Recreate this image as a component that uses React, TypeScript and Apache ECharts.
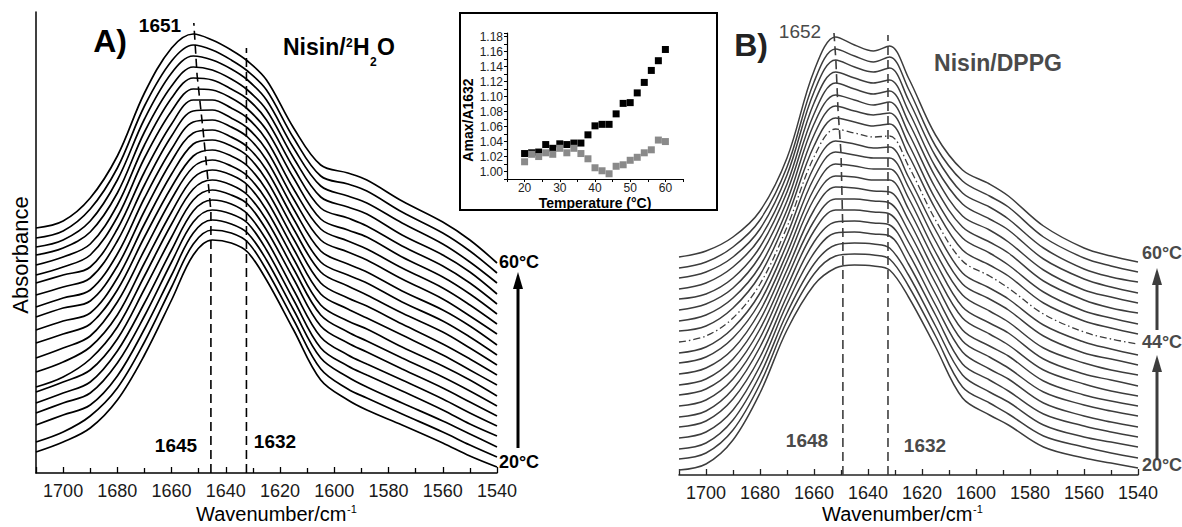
import React, { useEffect, useRef } from 'react';
import * as echarts from 'echarts';

const wavenumbers = [1710, 1700, 1690, 1680, 1670, 1660, 1652, 1645, 1638, 1632, 1625, 1615, 1605, 1595, 1588, 1575, 1560, 1550, 1540];

// Temperatures of the stacked spectra (°C), bottom to top
const temperatures = [20, 22, 24, 26, 28, 30, 32, 34, 36, 38, 40, 42, 44, 46, 48, 50, 52, 54, 56, 58, 60];

// Panel A: Nisin in 2H2O, stacked absorbance (arbitrary units x1000, offset per temperature)
const spectraA: number[][] = [
  [21, 31, 45, 73, 118, 173, 218, 233, 230, 221, 193, 143, 93, 73, 63, 48, 30, 17, 6],
  [31, 41, 57, 85, 131, 186, 229, 243, 240, 231, 203, 153, 104, 84, 75, 59, 41, 28, 16],
  [48, 58, 68, 97, 144, 198, 240, 253, 249, 240, 213, 163, 115, 96, 86, 70, 52, 39, 26],
  [60, 70, 80, 110, 157, 211, 251, 263, 259, 250, 223, 173, 125, 107, 98, 82, 63, 49, 37],
  [70, 80, 91, 122, 170, 223, 262, 273, 269, 259, 233, 183, 136, 118, 109, 93, 74, 60, 47],
  [81, 91, 103, 134, 184, 236, 273, 283, 278, 269, 243, 194, 147, 130, 121, 104, 85, 71, 57],
  [86, 96, 114, 146, 197, 249, 284, 293, 288, 278, 253, 204, 158, 141, 132, 115, 96, 82, 67],
  [101, 111, 126, 158, 210, 261, 295, 303, 298, 288, 263, 214, 168, 152, 144, 126, 107, 93, 77],
  [115, 125, 137, 171, 223, 274, 306, 313, 307, 297, 273, 224, 179, 164, 155, 138, 118, 103, 88],
  [130, 139, 149, 183, 236, 286, 317, 323, 317, 307, 283, 234, 190, 175, 167, 149, 129, 114, 98],
  [143, 152, 160, 195, 249, 299, 329, 333, 327, 317, 293, 244, 201, 187, 178, 160, 141, 125, 108],
  [156, 165, 172, 207, 262, 312, 340, 343, 336, 326, 303, 254, 211, 198, 190, 171, 152, 136, 118],
  [166, 175, 183, 219, 275, 324, 351, 353, 346, 336, 313, 264, 222, 209, 201, 182, 163, 147, 128],
  [178, 186, 195, 232, 288, 337, 362, 363, 355, 345, 323, 274, 233, 221, 213, 194, 174, 157, 139],
  [190, 198, 206, 244, 301, 349, 373, 373, 365, 355, 333, 284, 244, 232, 224, 205, 185, 168, 149],
  [198, 206, 218, 256, 315, 362, 384, 383, 375, 364, 343, 295, 254, 243, 236, 216, 196, 179, 159],
  [208, 216, 229, 268, 328, 375, 395, 393, 384, 374, 353, 305, 265, 255, 247, 227, 207, 190, 169],
  [218, 225, 241, 280, 341, 387, 406, 403, 394, 383, 363, 315, 276, 266, 259, 238, 218, 201, 179],
  [226, 233, 252, 293, 354, 400, 417, 413, 404, 393, 373, 325, 287, 277, 270, 250, 229, 211, 190],
  [235, 242, 264, 305, 367, 412, 428, 423, 413, 402, 383, 335, 297, 289, 282, 261, 240, 222, 200],
  [245, 252, 275, 317, 380, 425, 439, 433, 423, 412, 393, 345, 308, 300, 293, 272, 251, 233, 210],
];

// Panel B: Nisin/DPPG, stacked absorbance (arbitrary units x1000, offset per temperature)
const spectraB: number[][] = [
  [5, 11, 35, 82, 145, 190, 207, 210, 209, 205, 178, 128, 77, 60, 50, 28, 17, 12, 7],
  [16, 22, 45, 91, 154, 201, 219, 221, 220, 216, 189, 139, 88, 72, 61, 39, 28, 22, 17],
  [26, 32, 55, 100, 162, 211, 230, 232, 231, 227, 200, 149, 100, 83, 73, 50, 38, 33, 28],
  [37, 43, 65, 109, 171, 222, 242, 243, 241, 239, 211, 160, 111, 95, 84, 61, 49, 43, 38],
  [48, 54, 76, 118, 179, 233, 253, 254, 252, 250, 222, 170, 123, 106, 96, 72, 59, 53, 48],
  [58, 64, 86, 128, 188, 244, 265, 265, 263, 261, 233, 181, 134, 118, 107, 83, 70, 64, 59],
  [69, 75, 96, 137, 197, 254, 276, 276, 274, 272, 244, 192, 145, 129, 119, 94, 80, 74, 69],
  [80, 86, 106, 146, 205, 265, 288, 287, 284, 283, 255, 202, 157, 141, 130, 105, 91, 84, 79],
  [90, 96, 116, 155, 214, 276, 299, 298, 295, 295, 266, 213, 168, 152, 142, 116, 101, 95, 89],
  [101, 107, 126, 164, 222, 286, 311, 309, 306, 306, 277, 223, 180, 164, 153, 127, 112, 105, 100],
  [112, 118, 137, 173, 231, 297, 323, 320, 317, 317, 288, 234, 191, 176, 165, 139, 122, 116, 110],
  [122, 128, 147, 182, 240, 308, 334, 331, 327, 328, 298, 245, 202, 187, 176, 150, 133, 126, 120],
  [133, 139, 157, 191, 248, 318, 346, 342, 338, 339, 309, 255, 214, 199, 187, 161, 143, 136, 131],
  [144, 149, 167, 200, 257, 329, 357, 353, 349, 351, 320, 266, 225, 210, 199, 172, 154, 147, 141],
  [154, 160, 177, 209, 265, 340, 369, 364, 360, 362, 331, 276, 237, 222, 210, 183, 164, 157, 151],
  [165, 171, 187, 219, 274, 351, 380, 375, 370, 373, 342, 287, 248, 233, 222, 194, 175, 167, 162],
  [176, 181, 197, 228, 283, 361, 392, 386, 381, 384, 353, 298, 259, 245, 233, 205, 185, 178, 172],
  [186, 192, 208, 237, 291, 372, 403, 397, 392, 395, 364, 308, 271, 256, 245, 216, 196, 188, 182],
  [197, 203, 218, 246, 300, 383, 415, 408, 403, 407, 375, 319, 282, 268, 256, 227, 206, 198, 193],
  [207, 213, 228, 255, 308, 393, 426, 419, 413, 418, 386, 329, 294, 279, 268, 238, 217, 209, 203],
  [218, 224, 238, 264, 317, 404, 438, 430, 424, 429, 397, 340, 305, 291, 279, 249, 227, 219, 213],
];

// Dashed guide lines [wavenumber, absorbance]
const guideA1632 = [[1632.4, 0], [1632.4, 425]];
const guideA1645 = [[1645.5, 0], [1645.5, 262], [1646.2, 282], [1648.4, 343], [1650.6, 398], [1651.8, 450]];
const guideB1632 = [[1632.6, 0], [1632.6, 440]];
const guideB1648 = [[1649.3, 0], [1649.3, 242], [1650.0, 322], [1651.1, 365], [1651.9, 415], [1652.6, 442]];

// Inset: Amax/A1632 ratio vs temperature
const insetTemps = [20, 22, 24, 26, 28, 30, 32, 34, 36, 38, 40, 42, 44, 46, 48, 50, 52, 54, 56, 58, 60];
const ratioBlack = [1.024, 1.025, 1.026, 1.036, 1.031, 1.037, 1.036, 1.038, 1.038, 1.049, 1.061, 1.063, 1.063, 1.077, 1.091, 1.092, 1.105, 1.119, 1.135, 1.148, 1.163];
const ratioGray = [1.013, 1.023, 1.020, 1.025, 1.023, 1.031, 1.025, 1.031, 1.024, 1.017, 1.005, 1.001, 0.997, 1.007, 1.009, 1.015, 1.019, 1.025, 1.029, 1.042, 1.040];

const FONT = '"Liberation Sans", Arial, Helvetica, sans-serif';
const GRAY = '#3d3d3d';
const TEXT_GRAY = '#4a4a4a';

function spectrumAxis(gridIndex: number, color: string) {
  return {
    gridIndex,
    type: 'value',
    min: 1540,
    max: 1710,
    inverse: true,
    interval: 20,
    axisLine: { show: true, onZero: false, lineStyle: { color, width: 1.5 } },
    axisTick: { show: true, inside: true, length: 6, lineStyle: { color, width: 1.3 } },
    minorTick: { show: true, splitNumber: 2, length: 5, lineStyle: { color, width: 1.3 } },
    axisLabel: {
      formatter: (v: number) => (v % 20 === 0 ? String(v) : ''),
      fontSize: 18,
      fontFamily: FONT,
      color: '#1a1a1a',
      margin: 9,
    },
    splitLine: { show: false },
    minorSplitLine: { show: false },
  };
}

function txt(x: number, y: number, text: string, fontSize: number, opts: any = {}) {
  return {
    type: 'text',
    x,
    y,
    rotation: opts.rotation || 0,
    silent: true,
    style: {
      text,
      fontSize,
      fontFamily: FONT,
      fontWeight: opts.bold ? 'bold' : 'normal',
      fill: opts.color || '#000',
      align: opts.align || 'center',
      verticalAlign: 'middle',
    },
  };
}

function arrow(x: number, yBottom: number, yTip: number, color: string) {
  return [
    { type: 'line', silent: true, shape: { x1: x, y1: yBottom, x2: x, y2: yTip + 14 }, style: { stroke: color, lineWidth: 3 } },
    { type: 'polygon', silent: true, shape: { points: [[x, yTip], [x - 5, yTip + 17], [x + 5, yTip + 17]] }, style: { fill: color } },
  ];
}

export default function App() {
  const ref = useRef<HTMLDivElement>(null);

  useEffect(() => {
    if (!ref.current) return;
    const chart = echarts.init(ref.current, undefined, { renderer: 'svg' });

    const series: any[] = [];
    spectraA.forEach((row, i) => {
      series.push({
        type: 'line',
        name: 'A ' + temperatures[i] + '°C',
        xAxisIndex: 0,
        yAxisIndex: 0,
        data: wavenumbers.map((w, j) => [w, row[j]]),
        showSymbol: false,
        smooth: 0.35,
        silent: true,
        lineStyle: { color: '#000', width: 1.7 },
      });
    });
    spectraB.forEach((row, i) => {
      const dd = temperatures[i] === 44;
      series.push({
        type: 'line',
        name: 'B ' + temperatures[i] + '°C',
        xAxisIndex: 1,
        yAxisIndex: 1,
        data: wavenumbers.map((w, j) => [w, row[j]]),
        showSymbol: false,
        smooth: 0.35,
        silent: true,
        lineStyle: { color: GRAY, width: dd ? 1.3 : 1.5, type: dd ? [7, 3, 1.5, 3] : 'solid' },
      });
    });
    const guide = (data: number[][], axis: number, color: string) => ({
      type: 'line',
      xAxisIndex: axis,
      yAxisIndex: axis,
      data,
      showSymbol: false,
      silent: true,
      lineStyle: { color, width: 1.6, type: [9, 5] },
      z: 3,
    });
    series.push(guide(guideA1632, 0, '#000'));
    series.push(guide(guideA1645, 0, '#000'));
    series.push(guide(guideB1632, 1, GRAY));
    series.push(guide(guideB1648, 1, GRAY));
    series.push({
      type: 'scatter',
      xAxisIndex: 2,
      yAxisIndex: 2,
      symbol: 'rect',
      symbolSize: 7,
      data: insetTemps.map((t, i) => [t, ratioBlack[i]]),
      itemStyle: { color: '#000', opacity: 1 },
      silent: true,
    });
    series.push({
      type: 'scatter',
      xAxisIndex: 2,
      yAxisIndex: 2,
      symbol: 'rect',
      symbolSize: 7,
      data: insetTemps.map((t, i) => [t, ratioGray[i]]),
      itemStyle: { color: '#8a8a8a', opacity: 1 },
      silent: true,
    });

    const graphic: any[] = [
      // inset frame
      { type: 'rect', silent: true, shape: { x: 460, y: 13, width: 257, height: 197 }, style: { fill: 'none', stroke: '#000', lineWidth: 2 } },
      // panel A texts
      txt(110, 41, 'A)', 32, { bold: true }),
      txt(160, 25, '1651', 19, { bold: true }),
      txt(283, 47, 'Nisin/', 23, { bold: true, align: 'left' }),
      txt(346, 43, '2', 12, { bold: true, align: 'left' }),
      txt(353, 47, 'H', 23, { bold: true, align: 'left' }),
      txt(370, 62, '2', 12, { bold: true, align: 'left' }),
      txt(377, 47, 'O', 23, { bold: true, align: 'left' }),
      txt(176, 445, '1645', 19, { bold: true }),
      txt(275, 441, '1632', 19, { bold: true }),
      txt(519, 262, '60°C', 18, { bold: true }),
      txt(519, 462, '20°C', 18, { bold: true }),
      txt(20, 255, 'Absorbance', 22, { rotation: Math.PI / 2 }),
      txt(196, 514, 'Wavenumber/cm', 20, { align: 'left' }),
      txt(347, 509, '-1', 11, { align: 'left' }),
      ...arrow(518, 448, 272, '#000'),
      // panel B texts
      txt(751, 45, 'B)', 32, { bold: true, color: '#222' }),
      txt(800, 31, '1652', 19, { color: TEXT_GRAY }),
      txt(998, 63, 'Nisin/DPPG', 23, { bold: true, color: TEXT_GRAY }),
      txt(807, 440, '1648', 19, { bold: true, color: TEXT_GRAY }),
      txt(925, 445, '1632', 19, { bold: true, color: TEXT_GRAY }),
      txt(1162, 253, '60°C', 18, { bold: true, color: TEXT_GRAY }),
      txt(1162, 342, '44°C', 18, { bold: true, color: TEXT_GRAY }),
      txt(1162, 465, '20°C', 18, { bold: true, color: TEXT_GRAY }),
      txt(822, 514, 'Wavenumber/cm', 20, { align: 'left' }),
      txt(973, 509, '-1', 11, { align: 'left' }),
      ...arrow(1157, 330, 268, GRAY),
      ...arrow(1157, 460, 355, GRAY),
      // inset texts
      txt(595, 203, 'Temperature (°C)', 14, { bold: true }),
      txt(468, 120, 'Amax/A1632', 14, { bold: true, rotation: Math.PI / 2 }),
    ];

    chart.setOption({
      animation: false,
      backgroundColor: '#fff',
      grid: [
        { left: 36, top: 12, width: 461, height: 461 },
        { left: 679, top: 12, width: 459, height: 463 },
        { left: 507, top: 33, width: 176, height: 146 },
      ],
      xAxis: [
        spectrumAxis(0, '#000'),
        spectrumAxis(1, '#222'),
        {
          gridIndex: 2,
          type: 'value',
          min: 15,
          max: 65,
          interval: 5,
          axisLine: { show: true, onZero: false, lineStyle: { color: '#000', width: 1.2 } },
          axisTick: { show: true, length: 3, lineStyle: { color: '#000' } },
          axisLabel: { formatter: (v: number) => (v % 10 === 0 ? String(v) : ''), fontSize: 12, fontFamily: FONT, color: '#222', margin: 3 },
          splitLine: { show: false },
        },
      ],
      yAxis: [
        { gridIndex: 0, type: 'value', min: 0, max: 461, axisLine: { show: true, onZero: false, lineStyle: { color: '#000', width: 1.5 } }, axisTick: { show: false }, axisLabel: { show: false }, splitLine: { show: false } },
        { gridIndex: 1, type: 'value', min: 0, max: 463, axisLine: { show: false }, axisTick: { show: false }, axisLabel: { show: false }, splitLine: { show: false } },
        {
          gridIndex: 2,
          type: 'value',
          min: 0.99,
          max: 1.185,
          interval: 0.01,
          axisLine: { show: true, onZero: false, lineStyle: { color: '#000', width: 1.2 } },
          axisTick: { show: true, length: 3, lineStyle: { color: '#000' } },
          axisLabel: {
            formatter: (v: number) => {
              const k = Math.round(v * 100);
              if (Math.abs(v * 100 - k) > 1e-6) return '';
              return k % 2 === 0 && k >= 100 && k <= 118 ? (k / 100).toFixed(2) : '';
            },
            fontSize: 12,
            fontFamily: FONT,
            color: '#222',
            margin: 4,
          },
          splitLine: { show: false },
        },
      ],
      series,
      graphic,
    });

    return () => chart.dispose();
  }, []);

  return <div ref={ref} style={{ position: 'fixed', left: 0, top: 0, width: 1182, height: 527, background: '#fff' }} />;
}
